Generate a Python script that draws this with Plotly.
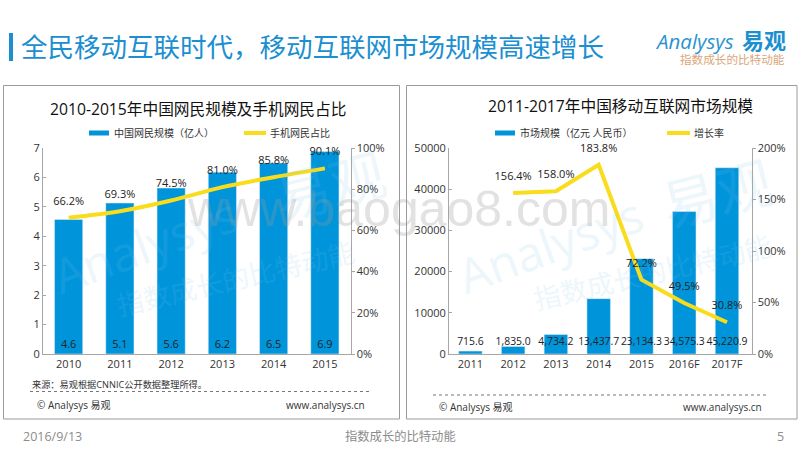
import plotly.graph_objects as go

years_left = ["2010", "2011", "2012", "2013", "2014", "2015"]
netizens = [4.57, 5.13, 5.64, 6.18, 6.49, 6.88]
netizen_labels = ["4.6", "5.1", "5.6", "6.2", "6.5", "6.9"]
mobile_share = [66.2, 69.3, 74.5, 81.0, 85.8, 90.1]

years_right = ["2011", "2012", "2013", "2014", "2015", "2016F", "2017F"]
market = [715.6, 1835.0, 4734.2, 13437.7, 23134.3, 34575.3, 45220.9]
market_labels = ["715.6", "1,835.0", "4,734.2", "13,437.7", "23,134.3", "34,575.3", "45,220.9"]
market_label_row = [2700] * 7
growth_years = ["2012", "2013", "2014", "2015", "2016F", "2017F"]
growth = [156.4, 158.0, 183.8, 72.2, 49.5, 30.8]

BLUE = "#0095db"
YELLOW = "#f9dc1c"
PALE = "#7cc4ea"
FONT = "Open Sans, Noto Sans CJK SC, sans-serif"
W, H = 800, 450


def px_x(x):
    return x / W


def px_y(y):
    return 1 - y / H


def label(x, y, text, size=11, color="#333333", anchor="left", angle=0, family=FONT, opacity=None):
    item = dict(x=px_x(x), y=px_y(y), xref="paper", yref="paper", text=text, showarrow=False,
                xanchor=anchor, yanchor="middle", textangle=angle,
                font=dict(size=size, color=color, family=family))
    if opacity is not None:
        item["opacity"] = opacity
    return item


label_font = dict(size=11, color="#222222", family=FONT)
# invisible markers push the text further above the line
ghost = dict(size=15, opacity=0)

fig = go.Figure()

# left chart
fig.add_trace(go.Bar(x=years_left, y=netizens, text=netizen_labels, textposition="inside",
                     insidetextanchor="start", textangle=0, marker_color=BLUE, width=0.55,
                     textfont=label_font, xaxis="x", yaxis="y", showlegend=False))
fig.add_trace(go.Scatter(x=years_left, y=mobile_share, mode="lines+markers+text",
                         text=["%.1f%%" % v for v in mobile_share], textposition="top center",
                         line=dict(color=YELLOW, width=4, shape="spline"), marker=ghost,
                         textfont=label_font, cliponaxis=False, xaxis="x", yaxis="y2", showlegend=False))

# right chart
fig.add_trace(go.Bar(x=years_right, y=market, marker_color=BLUE, width=0.55,
                     xaxis="x2", yaxis="y3", showlegend=False))
fig.add_trace(go.Scatter(x=years_right, y=market_label_row, mode="text", text=market_labels,
                         textfont=dict(size=10.4, color="#222222", family=FONT), cliponaxis=False,
                         xaxis="x2", yaxis="y3", showlegend=False))
fig.add_trace(go.Scatter(x=growth_years, y=growth, mode="lines+markers+text",
                         text=["%.1f%%" % v for v in growth], textposition="top center",
                         line=dict(color=YELLOW, width=4), marker=ghost,
                         textfont=label_font, cliponaxis=False, xaxis="x2", yaxis="y4", showlegend=False))

axis_line = dict(showline=True, linecolor="#a6a6a6", linewidth=1, showgrid=False, zeroline=False,
                 automargin=False, tickfont=dict(size=11, color="#333333", family=FONT))
y_dom = [px_y(354), px_y(148)]

fig.update_layout(
    width=W, height=H, autosize=False, margin=dict(l=0, r=0, t=0, b=0),
    paper_bgcolor="white", plot_bgcolor="rgba(0,0,0,0)", bargap=0.45,
    xaxis=dict(domain=[px_x(43), px_x(350.5)], anchor="y", type="category", ticks="", **axis_line),
    yaxis=dict(domain=y_dom, range=[0, 7], dtick=1, ticks="inside", ticklen=3, tickcolor="#a6a6a6", **axis_line),
    yaxis2=dict(domain=y_dom, range=[0, 100], dtick=20, ticksuffix="%", overlaying="y", side="right",
                anchor="x", ticks="outside", ticklen=3, tickcolor="#a6a6a6", **axis_line),
    xaxis2=dict(domain=[px_x(449), px_x(751.5)], anchor="y3", type="category",
                categoryorder="array", categoryarray=years_right, ticks="", **axis_line),
    yaxis3=dict(domain=y_dom, range=[0, 50000], dtick=10000, tickformat="d", anchor="x2", ticks="inside",
                ticklen=3, tickcolor="#a6a6a6", **axis_line),
    yaxis4=dict(domain=y_dom, range=[0, 200], dtick=50, ticksuffix="%", overlaying="y3", side="right",
                anchor="x2", ticks="outside", ticklen=3, tickcolor="#a6a6a6", **axis_line),
)

texts = [
    # header
    label(19, 47, "全民移动互联时代，移动互联网市场规模高速增长", size=26.5, color="#1b8fd0"),
    label(653, 41, "<i>Analysys</i>", size=20.5, color="#2a93cf"),
    label(740, 40, "<b>易观</b>", size=22, color="#1b8fd0"),
    label(678, 60, "指数成长的比特动能", size=11.6, color="#d8a67a"),
    # chart titles
    label(198, 109, "2010-2015年中国网民规模及手机网民占比", size=15.7, color="#111111", anchor="center"),
    label(620, 106, "2011-2017年中国移动互联网市场规模", size=15.7, color="#111111", anchor="center"),
    # legends
    label(112, 133, "中国网民规模（亿人）", size=10),
    label(268, 133, "手机网民占比", size=10),
    label(518, 133, "市场规模（亿元 人民币）", size=10),
    label(692, 133, "增长率", size=10),
    # notes
    label(30, 384, "来源：易观根据CNNIC公开数据整理所得。", size=9.2),
    label(35, 405, "© Analysys 易观", size=10),
    label(367, 405, "www.analysys.cn", size=10, anchor="right"),
    label(437, 407, "© Analysys 易观", size=10),
    label(764, 407, "www.analysys.cn", size=10, anchor="right"),
    # footer
    label(21, 436, "2016/9/13", size=12.5, color="#8c8c8c"),
    label(400, 436, "指数成长的比特动能", size=12.3, color="#8c8c8c", anchor="center"),
    label(775, 436, "5", size=12.5, color="#8c8c8c"),
    # watermarks
    label(398, 209, "www.baogao8.com", size=50, color="#999999", anchor="center", opacity=0.28,
          family="Liberation Sans, sans-serif"),
    label(145, 245, "Analysys", size=48, color=PALE, anchor="center", angle=-20, opacity=0.14),
    label(550, 245, "Analysys", size=48, color=PALE, anchor="center", angle=-20, opacity=0.14),
    label(235, 278, "指数成长的比特动能", size=27, color=PALE, anchor="center", angle=-13, opacity=0.14),
    label(652, 272, "指数成长的比特动能", size=27, color=PALE, anchor="center", angle=-13, opacity=0.14),
    label(330, 185, "易观", size=56, color=PALE, anchor="center", angle=-14, opacity=0.14),
    label(717, 193, "易观", size=56, color=PALE, anchor="center", angle=-14, opacity=0.14),
]
fig.update_layout(annotations=texts)


def box(x0, y0, x1, y1, **kw):
    return dict(type="rect", xref="paper", yref="paper", x0=px_x(x0), x1=px_x(x1), y0=px_y(y0), y1=px_y(y1), **kw)


def rule(x0, y0, x1, y1, color, width, dash="solid"):
    return dict(type="line", xref="paper", yref="paper", x0=px_x(x0), x1=px_x(x1), y0=px_y(y0), y1=px_y(y1),
                line=dict(color=color, width=width, dash=dash))


no_line = dict(width=0)
frame = dict(color="#9a9a9a", width=1)
fig.update_layout(shapes=[
    box(9, 33, 13, 61, fillcolor="#1b8fd0", line=no_line),
    box(3.5, 85.5, 399.5, 419, line=frame),
    box(406.5, 85.5, 797, 419, line=frame),
    box(89, 130.5, 109, 135.5, fillcolor=BLUE, line=no_line),
    rule(244, 133, 266, 133, YELLOW, 4),
    box(495, 130.5, 515, 135.5, fillcolor=BLUE, line=no_line),
    rule(667, 133, 690, 133, YELLOW, 4),
    rule(30, 391.5, 369, 391.5, "#777777", 1, "dot"),
    rule(433, 395, 768, 395, "#777777", 1, "dot"),
])

fig.write_html("out.html", post_script="document.body.style.margin='0';", config=dict(displayModeBar=False))
